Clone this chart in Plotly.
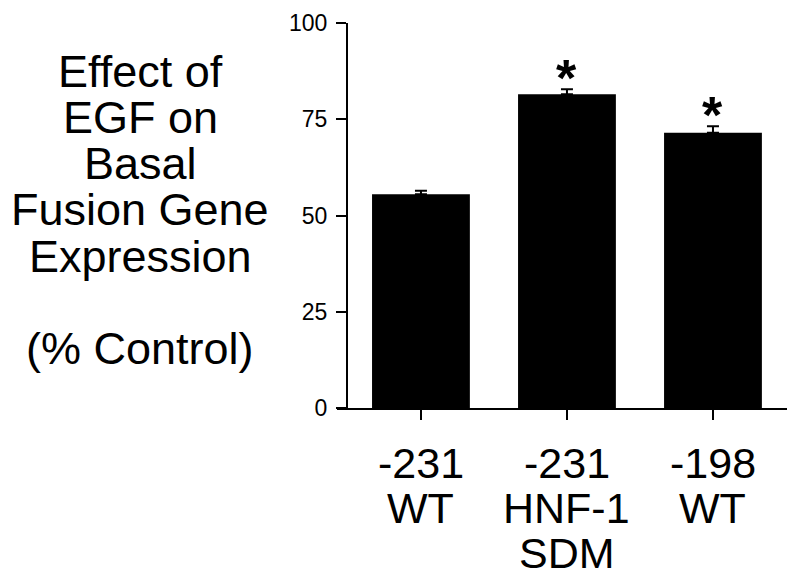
import plotly.graph_objects as go

label_lines = [["-231", "WT"], ["-231", "HNF-1", "SDM"], ["-198", "WT"]]
values = [55.5, 81.5, 71.5]
errors = [0.9, 1.3, 1.7]
significant = [False, True, True]
y_ticks = [0, 25, 50, 75, 100]
title_lines = ["Effect of", "EGF on", "Basal", "Fusion Gene", "Expression", "", "(% Control)"]

FONT = "Liberation Sans, Arial, Helvetica, sans-serif"
xs = list(range(len(label_lines)))

# page has an 8px body margin; figure is sized to fit the remaining window
OFF = 8
W, H = 800 - OFF, 583 - OFF
L, R, T, B = 337 - OFF, 13, 23 - OFF, 175
pw, ph = W - L - R, H - T - B

fig = go.Figure()
fig.add_trace(go.Bar(
    x=xs, y=values, width=0.67,
    marker=dict(color="black", line=dict(width=0)),
    error_y=dict(type="data", array=errors, arrayminus=[0] * len(errors), symmetric=False,
                 color="black", thickness=2, width=6),
))

ann = []
for i, (v, e, s) in enumerate(zip(values, errors, significant)):
    if s:
        ann.append(dict(x=i, y=v + e, xref="x", yref="y", text="<b>*</b>", showarrow=False,
                        yanchor="bottom", yshift=-20, font=dict(size=52, color="black", family=FONT)))
for i, lines in enumerate(label_lines):
    for j, t in enumerate(lines):
        ann.append(dict(x=i, y=0, xref="x", yref="y", text=t, showarrow=False,
                        yanchor="middle", yshift=-54.5 - 45 * j,
                        font=dict(size=43, color="black", family=FONT)))
for j, t in enumerate(title_lines):
    if not t:
        continue
    cy = 71 + 46.3 * j - OFF
    ann.append(dict(x=(140 - OFF - L) / pw, y=1 - (cy - T) / ph, xref="paper", yref="paper",
                    text=t, showarrow=False, xanchor="center", yanchor="middle",
                    font=dict(size=45, color="black", family=FONT)))

fig.update_layout(
    width=W, height=H,
    margin=dict(l=L, r=R, t=T, b=B, autoexpand=False),
    plot_bgcolor="white", paper_bgcolor="white",
    showlegend=False,
    annotations=ann,
    xaxis=dict(range=[-0.575, 2.507], tickvals=xs, ticktext=[""] * len(xs),
               showline=True, linecolor="black", linewidth=2,
               ticks="outside", ticklen=10, tickwidth=2, tickcolor="black",
               showgrid=False, zeroline=False, fixedrange=True),
    yaxis=dict(range=[0, 100], tickvals=y_ticks, anchor="free", position=10 / pw,
               showline=True, linecolor="black", linewidth=2,
               ticks="outside", ticklen=10, tickwidth=2, tickcolor="black",
               ticklabelstandoff=4,
               tickfont=dict(size=23, color="black", family=FONT),
               showgrid=False, zeroline=False, fixedrange=True),
)
fig.write_html("out.html")
